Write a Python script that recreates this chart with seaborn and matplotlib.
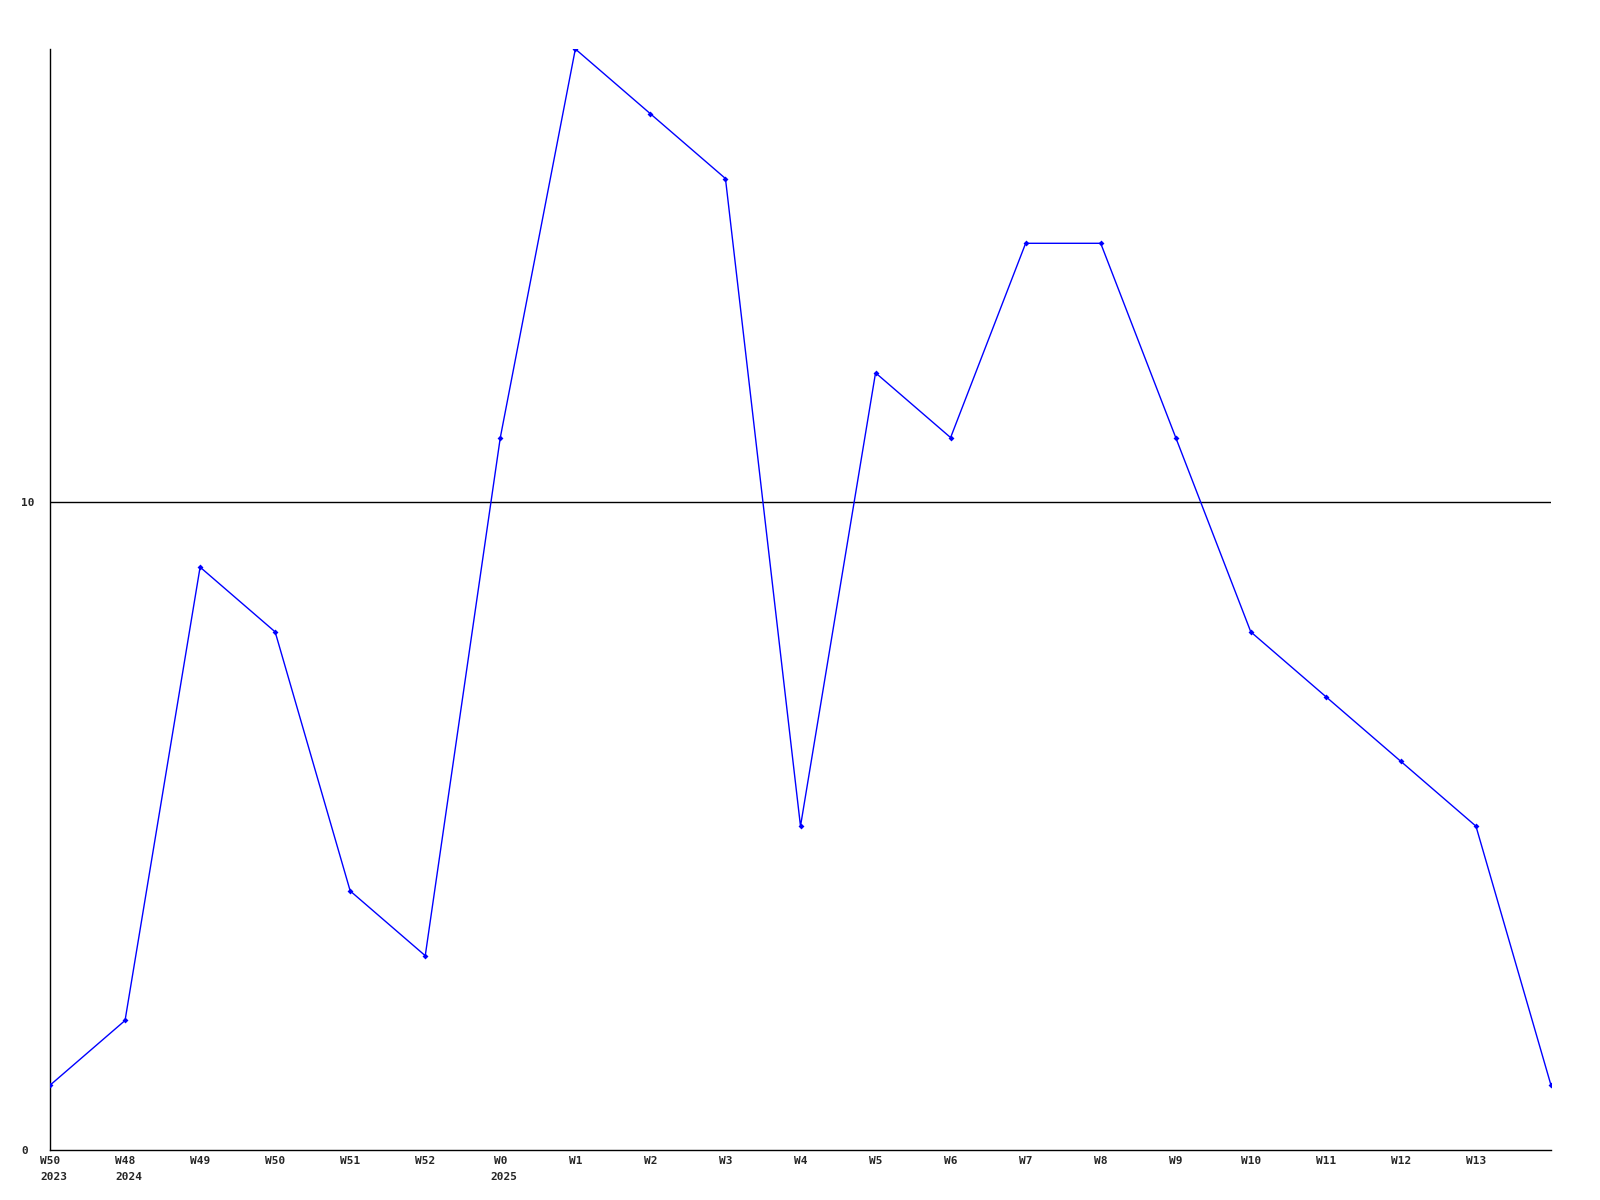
import matplotlib
matplotlib.use("Agg")
import matplotlib.pyplot as plt
import seaborn as sns
import pandas as pd

weeks = ["W50", "W48", "W49", "W50", "W51", "W52", "W0", "W1", "W2", "W3",
         "W4", "W5", "W6", "W7", "W8", "W9", "W10", "W11", "W12", "W13"]
years = {0: "2023", 1: "2024", 6: "2025"}
values = [1, 2, 9, 8, 4, 3, 11, 17, 16, 15, 5, 12, 11, 14, 14, 11, 8, 7, 6, 5, 1]

df = pd.DataFrame({"idx": list(range(len(values))), "value": values})

sns.set_style("white")
plt.rcParams["font.family"] = ["DejaVu Sans Mono"]

fig = plt.figure(figsize=(16, 12), dpi=100)
ax = fig.add_axes([50/1600, 50/1200, (1551-50)/1600, (1150-49)/1200])

sns.lineplot(data=df, x="idx", y="value", ax=ax, color="#0000ff", linewidth=1,
             marker="D", markersize=3, markeredgewidth=0, zorder=3)

ax.axhline(10, color="black", linewidth=1, zorder=2)

ax.set_xlim(0, len(values) - 1)
ax.set_ylim(0, 17)
ax.set_xticks(range(len(weeks)))
ax.set_xticklabels(weeks, fontsize=8, fontweight="bold")
ax.set_yticks([0, 10])
ax.set_yticklabels(["0", "10"], fontsize=8, fontweight="bold")
ax.tick_params(axis="x", length=0, pad=4)
ax.tick_params(axis="y", length=0, pad=20.9)
for lbl in ax.get_yticklabels():
    lbl.set_horizontalalignment("left")

for i, yr in years.items():
    ax.annotate(yr, xy=(i, 0), xycoords=("data", "axes fraction"),
                xytext=(-10, -22), textcoords="offset pixels",
                ha="left", va="top", fontsize=8, fontweight="bold")

ax.set_xlabel("")
ax.set_ylabel("")
for s in ["top", "right"]:
    ax.spines[s].set_visible(False)
for s in ["left", "bottom"]:
    ax.spines[s].set_color("black")
    ax.spines[s].set_linewidth(1)

fig.savefig("out.png", dpi=100, facecolor="white")
